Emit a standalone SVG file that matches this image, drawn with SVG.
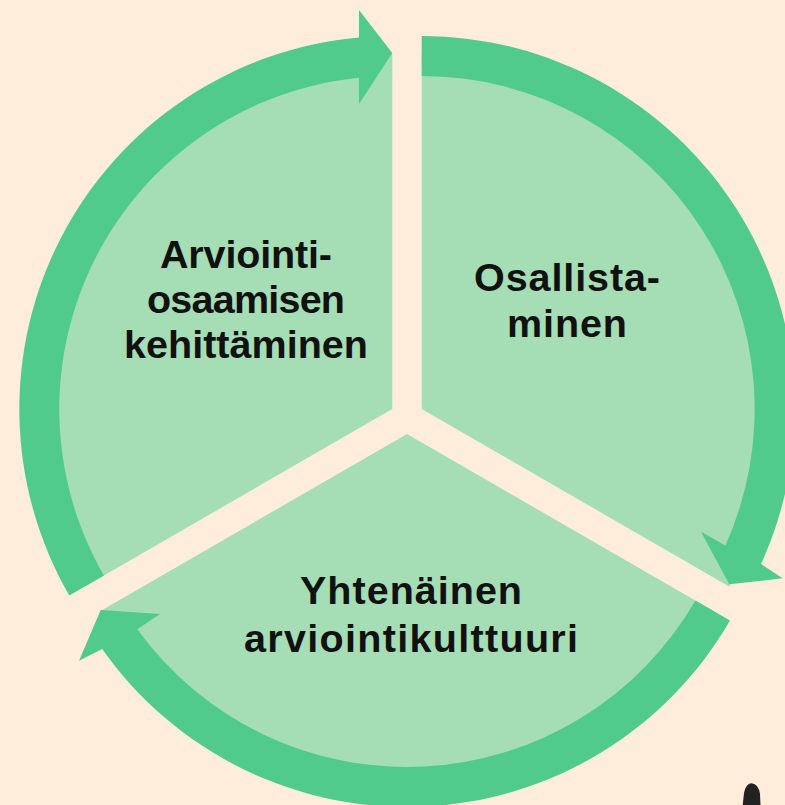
<svg xmlns="http://www.w3.org/2000/svg" width="785" height="805" viewBox="0 0 785 805">
<style>
.bg{fill:#FFEDDC}
.sector{fill:#A5DDB5}
.ring{fill:#50CB8C}
.lbl{font-family:"Liberation Sans",Arial,sans-serif;font-weight:700;font-size:39.5px;fill:#111111;text-anchor:middle}
</style>
<rect class="bg" x="0" y="0" width="785" height="805"/>
<g id="node-arviointiosaaminen">
<path class="sector" d="M392.3,409 L392.3,54 A355,355 0 0 0 84.9,586.5 Z"/>
<text class="lbl" x="246" y="268" textLength="172" lengthAdjust="spacing">Arviointi-</text>
<text class="lbl" x="246" y="313" textLength="198" lengthAdjust="spacing">osaamisen</text>
<text class="lbl" x="246" y="358" textLength="244" lengthAdjust="spacing">kehittäminen</text>
</g>
<g id="node-osallistaminen">
<path class="sector" d="M421.7,409 L421.7,54 A355,355 0 0 1 729.1,586.5 Z"/>
<text class="lbl" x="567" y="291" textLength="186" lengthAdjust="spacing">Osallista-</text>
<text class="lbl" x="567" y="337" textLength="120" lengthAdjust="spacing">minen</text>
</g>
<g id="node-arviointikulttuuri">
<path class="sector" d="M407,434 L714.4,611.5 A355,355 0 0 1 99.6,611.5 Z"/>
<text class="lbl" x="411" y="604" textLength="222" lengthAdjust="spacing">Yhtenäinen</text>
<text class="lbl" x="411" y="652" textLength="334" lengthAdjust="spacing">arviointikulttuuri</text>
</g>
<g id="connectors">
<path class="ring" d="M69.3,595.5 A373,373 0 0 1 359,37.5 L359,10 L392.3,53 L359,104 L359,77.7 A333,333 0 0 0 103.9,575.5 Z"/>
<path class="ring" d="M421.7,36 A373,373 0 0 1 761,564 L782.7,578.3 L729.3,584.3 L701,531.7 L725.4,545.5 A333,333 0 0 0 421.7,76 Z"/>
<path class="ring" d="M730,620.5 A373,373 0 0 1 102.2,649 L79,660.7 L100.7,610 L160,614 L137.3,629.3 A333,333 0 0 0 695.4,600.5 Z"/>
</g>
<path fill="#222222" d="M742.7,805 L744,793 Q746,783.3 751.7,783.3 Q758.5,784 760,794 L760.5,805 Z"/>
</svg>
